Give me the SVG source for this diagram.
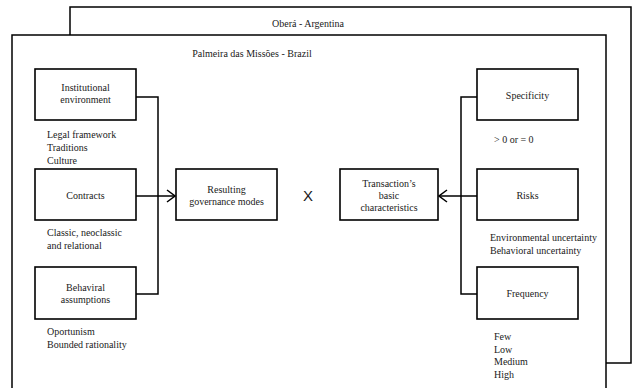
<svg xmlns="http://www.w3.org/2000/svg" width="634" height="388" viewBox="0 0 634 388">
<style>
.frame{fill:#fff;stroke:#000;stroke-width:1.5}
.box{fill:#fff;stroke:#000;stroke-width:1.6}
.conn{fill:none;stroke:#000;stroke-width:1.5}
text{font-family:"Liberation Serif","Times New Roman",serif;font-size:10px;fill:#1a1a1a}
.c{text-anchor:middle}
.x{font-family:"Liberation Sans",Arial,sans-serif;font-size:15px}
</style>
<defs>
<marker id="chev" markerWidth="10" markerHeight="14" refX="9" refY="7" orient="auto" markerUnits="userSpaceOnUse">
<path d="M1,1 L9,7 L1,13" fill="none" stroke="#000" stroke-width="1.5"/>
</marker>
</defs>
<rect width="634" height="388" fill="#fff"/>
<g id="obera">
<rect class="frame" x="70" y="7" width="561" height="356"/>
<text class="c" x="308" y="27">Oberá - Argentina</text>
</g>
<g id="palmeira">
<rect class="frame" x="12" y="35" width="594" height="360"/>
<text class="c" x="252" y="57">Palmeira das Missões - Brazil</text>
</g>
<g id="connectors">
<path class="conn" d="M136,97 H158 V294 H136"/>
<path class="conn" d="M136,196 H175" marker-end="url(#chev)"/>
<path class="conn" d="M477,97 H461 V294 H477"/>
<path class="conn" d="M477,196 H439" marker-end="url(#chev)"/>
</g>
<g id="institutional">
<rect class="box" x="35" y="69" width="101" height="51"/>
<text class="c" x="85.5" y="91">Institutional</text>
<text class="c" x="85.5" y="103">environment</text>
<text x="47" y="138">Legal framework</text>
<text x="47" y="151">Traditions</text>
<text x="47" y="164">Culture</text>
</g>
<g id="contracts">
<rect class="box" x="35" y="169" width="101" height="51"/>
<text class="c" x="85.5" y="199">Contracts</text>
<text x="47" y="236">Classic, neoclassic</text>
<text x="47" y="249">and relational</text>
</g>
<g id="behavioral">
<rect class="box" x="35" y="267" width="101" height="52"/>
<text class="c" x="85.5" y="291">Behaviral</text>
<text class="c" x="85.5" y="303">assumptions</text>
<text x="47" y="335">Oportunism</text>
<text x="47" y="348">Bounded rationality</text>
</g>
<g id="resulting">
<rect class="box" x="176" y="169" width="101" height="51"/>
<text class="c" x="226.5" y="193">Resulting</text>
<text class="c" x="226.5" y="205">governance modes</text>
</g>
<g id="times">
<text class="x c" x="308" y="201">X</text>
</g>
<g id="transaction">
<rect class="box" x="340" y="169" width="98" height="51"/>
<text class="c" x="389" y="187">Transaction’s</text>
<text class="c" x="389" y="199">basic</text>
<text class="c" x="389" y="211">characteristics</text>
</g>
<g id="specificity">
<rect class="box" x="477" y="69" width="101" height="51"/>
<text class="c" x="527.5" y="99">Specificity</text>
<text x="494" y="143">&gt; 0 or = 0</text>
</g>
<g id="risks">
<rect class="box" x="477" y="169" width="101" height="51"/>
<text class="c" x="527.5" y="199">Risks</text>
<text x="490" y="241">Environmental uncertainty</text>
<text x="490" y="254">Behavioral uncertainty</text>
</g>
<g id="frequency">
<rect class="box" x="477" y="267" width="101" height="52"/>
<text class="c" x="527.5" y="297">Frequency</text>
<text x="494" y="340">Few</text>
<text x="494" y="353">Low</text>
<text x="494" y="365">Medium</text>
<text x="494" y="378">High</text>
</g>
</svg>
